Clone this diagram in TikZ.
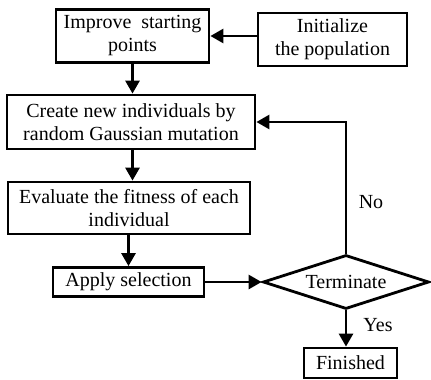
\documentclass[tikz,border=0pt]{standalone}
\usepackage{fontspec}
\setmainfont{Liberation Serif}
\usetikzlibrary{arrows.meta,shapes.geometric}
\begin{document}
\begin{tikzpicture}[x=1pt,y=-1pt, line width=2.8pt,
 txt/.style={font=\fontsize{20}{23}\selectfont},
 box/.style={draw, rectangle, inner sep=0pt, align=center, txt},
 arr/.style={-{Triangle[length=13pt,width=14pt]}},
 lbl/.style={txt, inner sep=0pt}]
\useasboundingbox (0,0) rectangle (431,380);
\node[box, minimum width=153, minimum height=53] (imp) at (132.5,36) {Improve\ \ starting\\points};
\node[box, minimum width=149, minimum height=53] (ini) at (332.5,39.5) {Initialize\\the population};
\node[box, minimum width=248, minimum height=54] (cre) at (131,122) {Create new individuals by\\random Gaussian mutation};
\node[box, minimum width=242, minimum height=52] (eva) at (129,208) {Evaluate the fitness of each\\individual};
\node[box, minimum width=151, minimum height=29] (app) at (128.5,282) {Apply selection};
\node[diamond, draw, txt, inner sep=0pt, aspect=3.1, minimum width=166, minimum height=54] (ter) at (346,282) {Terminate};
\node[box, minimum width=93, minimum height=30] (fin) at (350.5,363) {Finished};
\draw[arr] (ini.west |- imp.east) -- (imp.east);
\draw[arr] (imp.south) -- (imp.south |- cre.north);
\draw[arr] (cre.south -| imp.south) -- (imp.south |- eva.north);
\draw[arr] (eva.south -| app.north) -- (app.north);
\draw[arr] (app.east) -- (app.east -| ter.west);
\draw[arr] (ter.north) |- (cre.east);
\draw[arr] (ter.south) -- (ter.south |- fin.north);
\node[lbl] (no) at (371,202) {No};
\node[lbl] (yes) at (378,325) {Yes};
\end{tikzpicture}
\end{document}
